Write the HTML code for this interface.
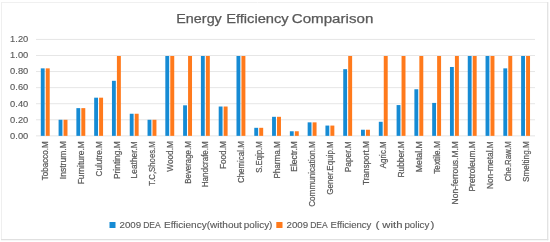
<!DOCTYPE html>
<html><head><meta charset="utf-8"><style>
html,body{margin:0;padding:0;background:#fff;}
body{width:550px;height:242px;overflow:hidden;}
svg{display:block;font-family:"Liberation Sans", sans-serif;filter:blur(0.3px);} text{stroke:#595959;stroke-width:0.12px;} text.t{stroke-width:0.25px;} text.xl{stroke-width:0.2px;}
</style></head><body>
<svg width="550" height="242" viewBox="0 0 550 242">
<line x1="1" x2="548" y1="2.5" y2="2.5" stroke="#F0F0F0" stroke-width="1"/>
<line x1="1.5" x2="1.5" y1="2" y2="240" stroke="#EFEFEF" stroke-width="1"/>
<line x1="547.7" x2="547.7" y1="2" y2="240.2" stroke="#E2E2E2" stroke-width="1.3"/>
<line x1="1" x2="548.3" y1="239.6" y2="239.6" stroke="#E0E0E0" stroke-width="1.3"/>
<line x1="36" x2="535" y1="135.85" y2="135.85" stroke="#E6E6E6" stroke-width="1"/>
<text transform="translate(28.3,138.65) scale(1.1,1)" text-anchor="end" font-size="8.5" fill="#595959">0.00</text>
<line x1="36" x2="535" y1="119.78" y2="119.78" stroke="#E6E6E6" stroke-width="1"/>
<text transform="translate(28.3,122.58) scale(1.1,1)" text-anchor="end" font-size="8.5" fill="#595959">0.20</text>
<line x1="36" x2="535" y1="103.71" y2="103.71" stroke="#E6E6E6" stroke-width="1"/>
<text transform="translate(28.3,106.51) scale(1.1,1)" text-anchor="end" font-size="8.5" fill="#595959">0.40</text>
<line x1="36" x2="535" y1="87.64" y2="87.64" stroke="#E6E6E6" stroke-width="1"/>
<text transform="translate(28.3,90.44) scale(1.1,1)" text-anchor="end" font-size="8.5" fill="#595959">0.60</text>
<line x1="36" x2="535" y1="71.57" y2="71.57" stroke="#E6E6E6" stroke-width="1"/>
<text transform="translate(28.3,74.37) scale(1.1,1)" text-anchor="end" font-size="8.5" fill="#595959">0.80</text>
<line x1="36" x2="535" y1="55.50" y2="55.50" stroke="#E6E6E6" stroke-width="1"/>
<text transform="translate(28.3,58.30) scale(1.1,1)" text-anchor="end" font-size="8.5" fill="#595959">1.00</text>
<line x1="36" x2="535" y1="39.43" y2="39.43" stroke="#E6E6E6" stroke-width="1"/>
<text transform="translate(28.3,42.23) scale(1.1,1)" text-anchor="end" font-size="8.5" fill="#595959">1.20</text>
<rect x="40.80" y="68.36" width="3.85" height="67.49" fill="#168BD4"/>
<rect x="45.75" y="68.36" width="3.95" height="67.49" fill="#FF7A1C"/>
<text transform="translate(48.35,180.10) rotate(-90) scale(1,1.2)" class="xl" x="-0.18" textLength="39.02" lengthAdjust="spacingAndGlyphs" font-size="8.25" fill="#595959">Tobacco.M</text>
<rect x="58.59" y="119.78" width="3.85" height="16.07" fill="#168BD4"/>
<rect x="63.54" y="119.78" width="3.95" height="16.07" fill="#FF7A1C"/>
<text transform="translate(66.14,178.40) rotate(-90) scale(1,1.2)" class="xl" x="-0.79" textLength="37.99" lengthAdjust="spacingAndGlyphs" font-size="8.25" fill="#595959">Instrum.M</text>
<rect x="76.38" y="108.13" width="3.85" height="27.72" fill="#168BD4"/>
<rect x="81.33" y="108.13" width="3.95" height="27.72" fill="#FF7A1C"/>
<text transform="translate(83.93,183.60) rotate(-90) scale(1,1.2)" class="xl" x="-0.69" textLength="43.08" lengthAdjust="spacingAndGlyphs" font-size="8.25" fill="#595959">Furniture.M</text>
<rect x="94.17" y="97.68" width="3.85" height="38.17" fill="#168BD4"/>
<rect x="99.12" y="97.68" width="3.95" height="38.17" fill="#FF7A1C"/>
<text transform="translate(101.72,176.10) rotate(-90) scale(1,1.2)" class="xl" x="-0.41" textLength="35.28" lengthAdjust="spacingAndGlyphs" font-size="8.25" fill="#595959">Culutre.M</text>
<rect x="111.96" y="80.81" width="3.85" height="55.04" fill="#168BD4"/>
<rect x="116.91" y="56.00" width="3.95" height="79.85" fill="#FF7A1C"/>
<text transform="translate(119.51,178.40) rotate(-90) scale(1,1.2)" class="xl" x="-0.69" textLength="37.88" lengthAdjust="spacingAndGlyphs" font-size="8.25" fill="#595959">Printing.M</text>
<rect x="129.75" y="113.75" width="3.85" height="22.10" fill="#168BD4"/>
<rect x="134.70" y="113.75" width="3.95" height="22.10" fill="#FF7A1C"/>
<text transform="translate(137.30,177.70) rotate(-90) scale(1,1.2)" class="xl" x="-0.68" textLength="37.15" lengthAdjust="spacingAndGlyphs" font-size="8.25" fill="#595959">Leather.M</text>
<rect x="147.54" y="119.78" width="3.85" height="16.07" fill="#168BD4"/>
<rect x="152.49" y="119.78" width="3.95" height="16.07" fill="#FF7A1C"/>
<text transform="translate(155.09,185.50) rotate(-90) scale(1,1.2)" class="xl" x="-0.17" textLength="44.4" lengthAdjust="spacingAndGlyphs" font-size="8.25" fill="#595959">T.C,Shoes.M</text>
<rect x="165.33" y="56.00" width="3.85" height="79.85" fill="#168BD4"/>
<rect x="170.28" y="56.00" width="3.95" height="79.85" fill="#FF7A1C"/>
<text transform="translate(172.88,171.70) rotate(-90) scale(1,1.2)" class="xl" x="-0.04" textLength="30.51" lengthAdjust="spacingAndGlyphs" font-size="8.25" fill="#595959">Wood.M</text>
<rect x="183.12" y="105.32" width="3.85" height="30.53" fill="#168BD4"/>
<rect x="188.07" y="56.00" width="3.95" height="79.85" fill="#FF7A1C"/>
<text transform="translate(190.67,183.10) rotate(-90) scale(1,1.2)" class="xl" x="-0.65" textLength="42.49" lengthAdjust="spacingAndGlyphs" font-size="8.25" fill="#595959">Beverage.M</text>
<rect x="200.91" y="56.00" width="3.85" height="79.85" fill="#168BD4"/>
<rect x="205.86" y="56.00" width="3.95" height="79.85" fill="#FF7A1C"/>
<text transform="translate(208.46,186.60) rotate(-90) scale(1,1.2)" class="xl" x="-0.66" textLength="46.02" lengthAdjust="spacingAndGlyphs" font-size="8.25" fill="#595959">Handcrafe.M</text>
<rect x="218.70" y="106.52" width="3.85" height="29.33" fill="#168BD4"/>
<rect x="223.65" y="106.52" width="3.95" height="29.33" fill="#FF7A1C"/>
<text transform="translate(226.25,168.40) rotate(-90) scale(1,1.2)" class="xl" x="-0.67" textLength="27.85" lengthAdjust="spacingAndGlyphs" font-size="8.25" fill="#595959">Food.M</text>
<rect x="236.49" y="56.00" width="3.85" height="79.85" fill="#168BD4"/>
<rect x="241.44" y="56.00" width="3.95" height="79.85" fill="#FF7A1C"/>
<text transform="translate(244.04,182.60) rotate(-90) scale(1,1.2)" class="xl" x="-0.4" textLength="41.75" lengthAdjust="spacingAndGlyphs" font-size="8.25" fill="#595959">Chemical.M</text>
<rect x="254.28" y="127.81" width="3.85" height="8.04" fill="#168BD4"/>
<rect x="259.23" y="127.81" width="3.95" height="8.04" fill="#FF7A1C"/>
<text transform="translate(261.83,172.50) rotate(-90) scale(1,1.2)" class="xl" x="-0.35" textLength="31.59" lengthAdjust="spacingAndGlyphs" font-size="8.25" fill="#595959">S.Eqip.M</text>
<rect x="272.07" y="116.81" width="3.85" height="19.04" fill="#168BD4"/>
<rect x="277.02" y="116.81" width="3.95" height="19.04" fill="#FF7A1C"/>
<text transform="translate(279.62,177.90) rotate(-90) scale(1,1.2)" class="xl" x="-0.66" textLength="37.33" lengthAdjust="spacingAndGlyphs" font-size="8.25" fill="#595959">Pharma.M</text>
<rect x="289.86" y="131.27" width="3.85" height="4.58" fill="#168BD4"/>
<rect x="294.81" y="131.27" width="3.95" height="4.58" fill="#FF7A1C"/>
<text transform="translate(297.41,171.00) rotate(-90) scale(1,1.2)" class="xl" x="-0.68" textLength="30.46" lengthAdjust="spacingAndGlyphs" font-size="8.25" fill="#595959">Electr.M</text>
<rect x="307.65" y="122.35" width="3.85" height="13.50" fill="#168BD4"/>
<rect x="312.60" y="122.35" width="3.95" height="13.50" fill="#FF7A1C"/>
<text transform="translate(315.20,206.40) rotate(-90) scale(1,1.2)" class="xl" x="-0.41" textLength="65.58" lengthAdjust="spacingAndGlyphs" font-size="8.25" fill="#595959">Communication.M</text>
<rect x="325.44" y="125.57" width="3.85" height="10.28" fill="#168BD4"/>
<rect x="330.39" y="125.57" width="3.95" height="10.28" fill="#FF7A1C"/>
<text transform="translate(332.99,194.30) rotate(-90) scale(1,1.2)" class="xl" x="-0.4" textLength="53.45" lengthAdjust="spacingAndGlyphs" font-size="8.25" fill="#595959">Gener.Equip.M</text>
<rect x="343.23" y="69.16" width="3.85" height="66.69" fill="#168BD4"/>
<rect x="348.18" y="56.00" width="3.95" height="79.85" fill="#FF7A1C"/>
<text transform="translate(350.78,171.50) rotate(-90) scale(1,1.2)" class="xl" x="-0.67" textLength="30.94" lengthAdjust="spacingAndGlyphs" font-size="8.25" fill="#595959">Paper.M</text>
<rect x="361.02" y="129.74" width="3.85" height="6.11" fill="#168BD4"/>
<rect x="365.97" y="129.74" width="3.95" height="6.11" fill="#FF7A1C"/>
<text transform="translate(368.57,184.90) rotate(-90) scale(1,1.2)" class="xl" x="-0.18" textLength="43.85" lengthAdjust="spacingAndGlyphs" font-size="8.25" fill="#595959">Transport.M</text>
<rect x="378.81" y="121.79" width="3.85" height="14.06" fill="#168BD4"/>
<rect x="383.76" y="56.00" width="3.95" height="79.85" fill="#FF7A1C"/>
<text transform="translate(386.36,168.30) rotate(-90) scale(1,1.2)" class="xl" x="-0.02" textLength="27.07" lengthAdjust="spacingAndGlyphs" font-size="8.25" fill="#595959">Agric.M</text>
<rect x="396.60" y="105.08" width="3.85" height="30.77" fill="#168BD4"/>
<rect x="401.55" y="56.00" width="3.95" height="79.85" fill="#FF7A1C"/>
<text transform="translate(404.15,176.90) rotate(-90) scale(1,1.2)" class="xl" x="-0.68" textLength="36.36" lengthAdjust="spacingAndGlyphs" font-size="8.25" fill="#595959">Rubber.M</text>
<rect x="414.39" y="89.25" width="3.85" height="46.60" fill="#168BD4"/>
<rect x="419.34" y="56.00" width="3.95" height="79.85" fill="#FF7A1C"/>
<text transform="translate(421.94,171.50) rotate(-90) scale(1,1.2)" class="xl" x="-0.72" textLength="31.03" lengthAdjust="spacingAndGlyphs" font-size="8.25" fill="#595959">Metal.M</text>
<rect x="432.18" y="102.91" width="3.85" height="32.94" fill="#168BD4"/>
<rect x="437.13" y="56.00" width="3.95" height="79.85" fill="#FF7A1C"/>
<text transform="translate(439.73,173.60) rotate(-90) scale(1,1.2)" class="xl" x="-0.18" textLength="32.54" lengthAdjust="spacingAndGlyphs" font-size="8.25" fill="#595959">Textile.M</text>
<rect x="449.97" y="66.99" width="3.85" height="68.86" fill="#168BD4"/>
<rect x="454.92" y="56.00" width="3.95" height="79.85" fill="#FF7A1C"/>
<text transform="translate(457.52,203.70) rotate(-90) scale(1,1.2)" class="xl" x="-0.69" textLength="63.18" lengthAdjust="spacingAndGlyphs" font-size="8.25" fill="#595959">Non-ferrous.M.M</text>
<rect x="467.76" y="56.00" width="3.85" height="79.85" fill="#168BD4"/>
<rect x="472.71" y="56.00" width="3.95" height="79.85" fill="#FF7A1C"/>
<text transform="translate(475.31,190.80) rotate(-90) scale(1,1.2)" class="xl" x="-0.69" textLength="50.27" lengthAdjust="spacingAndGlyphs" font-size="8.25" fill="#595959">Pretroleum.M</text>
<rect x="485.55" y="56.00" width="3.85" height="79.85" fill="#168BD4"/>
<rect x="490.50" y="56.00" width="3.95" height="79.85" fill="#FF7A1C"/>
<text transform="translate(493.10,188.40) rotate(-90) scale(1,1.2)" class="xl" x="-0.69" textLength="47.87" lengthAdjust="spacingAndGlyphs" font-size="8.25" fill="#595959">Non-metal.M</text>
<rect x="503.34" y="68.36" width="3.85" height="67.49" fill="#168BD4"/>
<rect x="508.29" y="56.00" width="3.95" height="79.85" fill="#FF7A1C"/>
<text transform="translate(510.89,180.90) rotate(-90) scale(1,1.2)" class="xl" x="-0.39" textLength="40.02" lengthAdjust="spacingAndGlyphs" font-size="8.25" fill="#595959">Che.Raw.M</text>
<rect x="521.13" y="56.00" width="3.85" height="79.85" fill="#168BD4"/>
<rect x="526.08" y="56.00" width="3.95" height="79.85" fill="#FF7A1C"/>
<text transform="translate(528.68,181.70) rotate(-90) scale(1,1.2)" class="xl" x="-0.37" textLength="40.84" lengthAdjust="spacingAndGlyphs" font-size="8.25" fill="#595959">Smelting.M</text>
<text class="t" x="176.3" y="22.7" font-size="12.5" textLength="45.5" lengthAdjust="spacingAndGlyphs" fill="#595959">Energy</text>
<text class="t" x="226.2" y="22.7" font-size="12.5" textLength="62.5" lengthAdjust="spacingAndGlyphs" fill="#595959">Efficiency</text>
<text class="t" x="291.8" y="22.7" font-size="12.5" textLength="81.5" lengthAdjust="spacingAndGlyphs" fill="#595959">Comparison</text>
<rect x="109.5" y="222" width="6" height="6" fill="#168BD4"/>
<rect x="276.3" y="222" width="6.2" height="6" fill="#FF7A1C"/>
<text x="119.51" y="227.8" font-size="8.5" textLength="21.65" lengthAdjust="spacingAndGlyphs" fill="#595959">2009</text>
<text x="143.2" y="227.8" font-size="8.5" textLength="17.52" lengthAdjust="spacingAndGlyphs" fill="#595959">DEA</text>
<text x="163.98" y="227.8" font-size="8.5" textLength="77.89" lengthAdjust="spacingAndGlyphs" fill="#595959">Efficiency(without</text>
<text x="243.86" y="227.8" font-size="8.5" textLength="28.55" lengthAdjust="spacingAndGlyphs" fill="#595959">policy)</text>
<text x="286.51" y="227.8" font-size="8.5" textLength="21.65" lengthAdjust="spacingAndGlyphs" fill="#595959">2009</text>
<text x="310.2" y="227.8" font-size="8.5" textLength="17.52" lengthAdjust="spacingAndGlyphs" fill="#595959">DEA</text>
<text x="330.62" y="227.8" font-size="8.5" textLength="40.8" lengthAdjust="spacingAndGlyphs" fill="#595959">Efficiency</text>
<text x="375.55" y="227.8" font-size="8.5" textLength="4.02" lengthAdjust="spacingAndGlyphs" fill="#595959">(</text>
<text x="382.32" y="227.8" font-size="8.5" textLength="20.12" lengthAdjust="spacingAndGlyphs" fill="#595959">with</text>
<text x="404.47" y="227.8" font-size="8.5" textLength="24.85" lengthAdjust="spacingAndGlyphs" fill="#595959">policy</text>
<text x="430.43" y="227.8" font-size="8.5" textLength="3.89" lengthAdjust="spacingAndGlyphs" fill="#595959">)</text>
</svg>
</body></html>
